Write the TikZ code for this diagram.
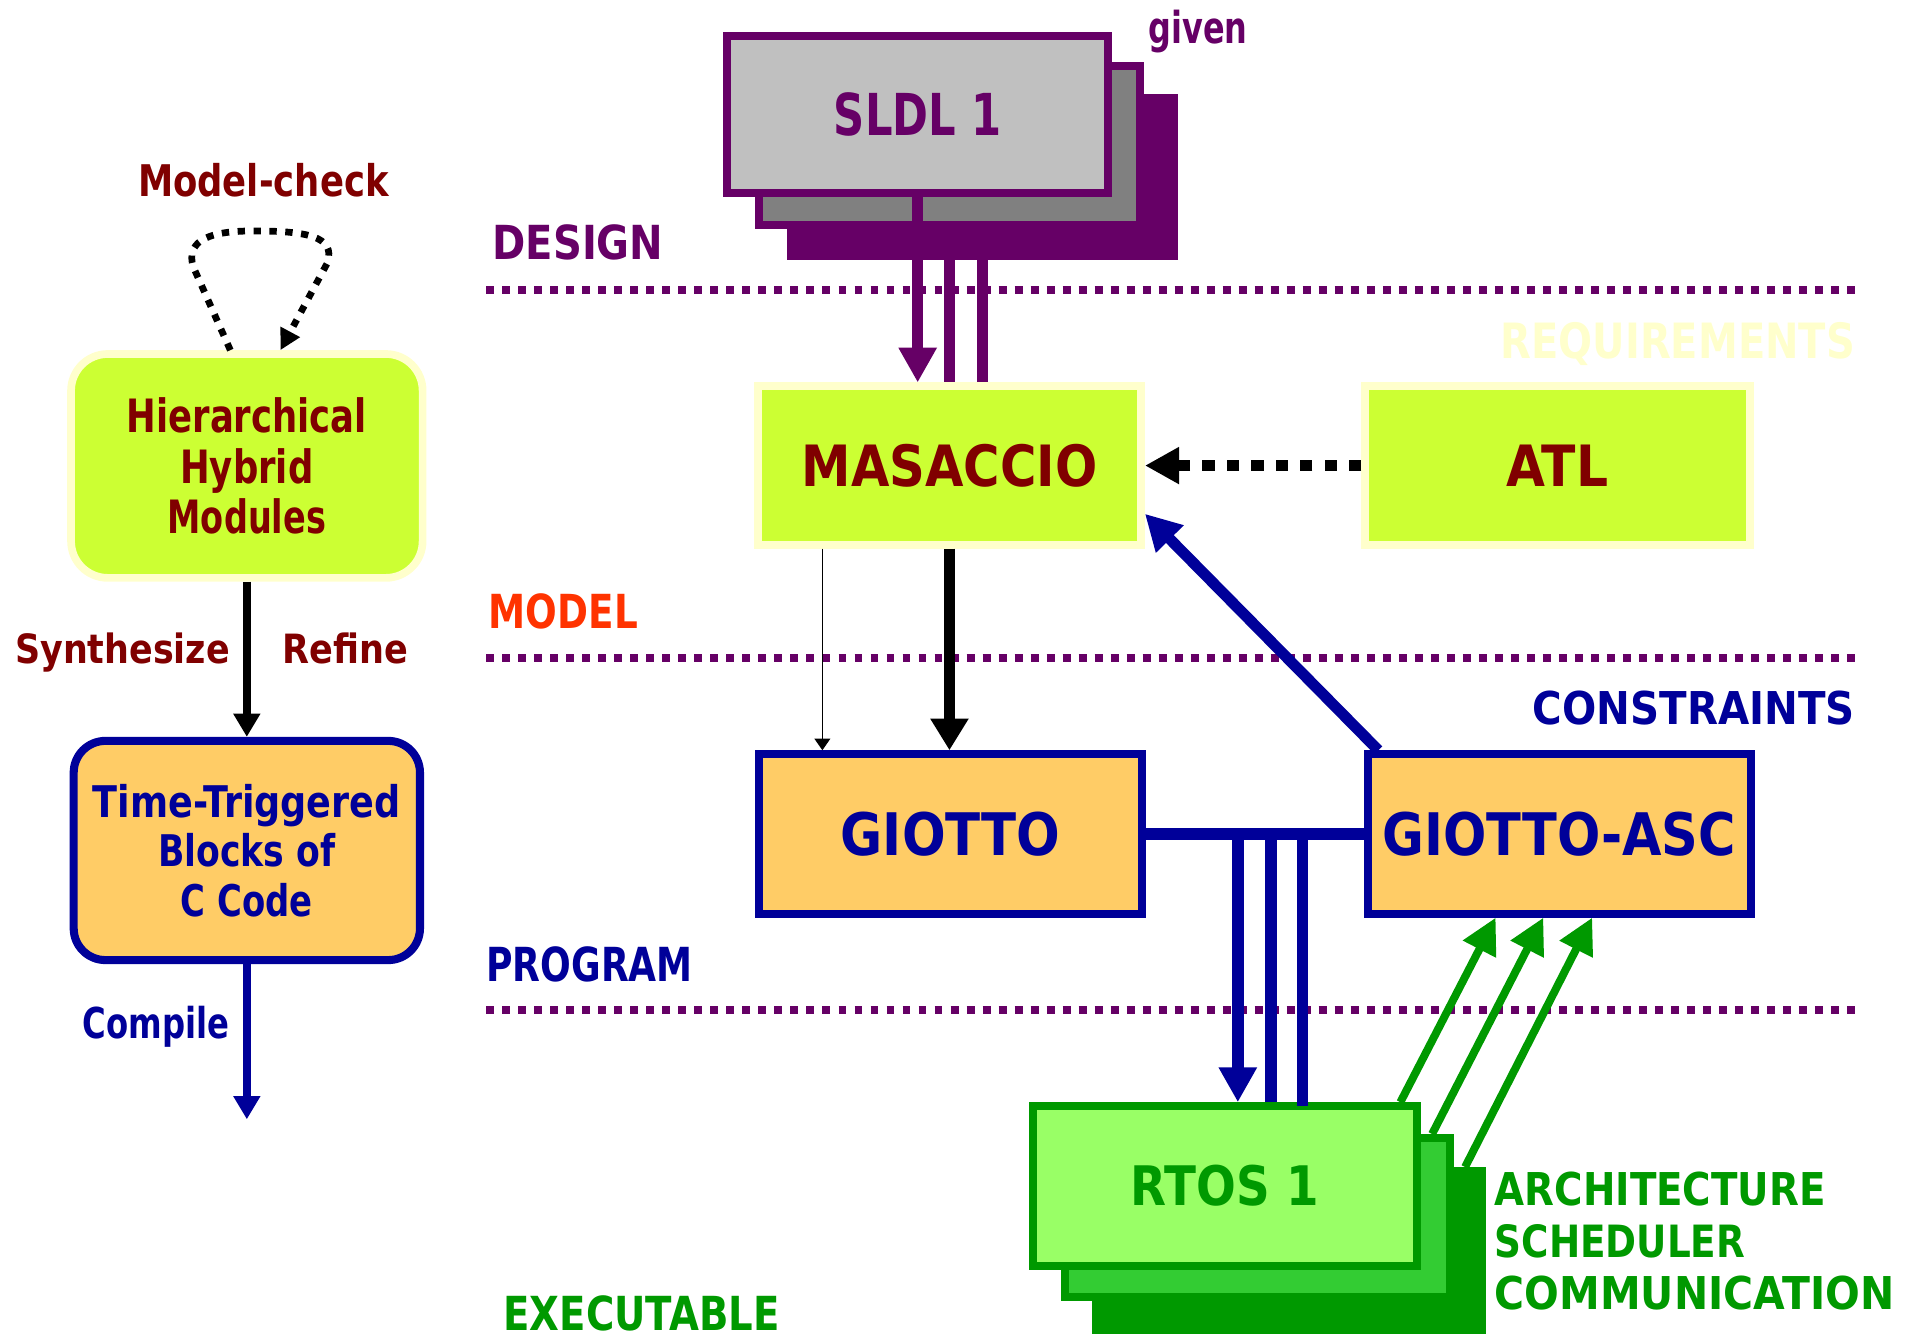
\documentclass[tikz,border=0pt]{standalone}
\usepackage{fontspec}
\setmainfont{DejaVu Sans}
\usepackage{graphicx}
\usetikzlibrary{arrows.meta,calc}

\definecolor{plum}{HTML}{660066}
\definecolor{maroon}{HTML}{800000}
\definecolor{navy}{HTML}{000099}
\definecolor{lime}{HTML}{CCFF33}
\definecolor{cream}{HTML}{FFFFCC}
\definecolor{peach}{HTML}{FFCC66}
\definecolor{vermilion}{HTML}{FF3300}
\definecolor{leaf}{HTML}{009900}
\definecolor{mint}{HTML}{99FF66}
\definecolor{grass}{HTML}{33CC33}
\definecolor{silver}{HTML}{C0C0C0}
\definecolor{slate}{HTML}{808080}

% \fitw{width}{size}{text}: bold text set at <size> pt, stretched horizontally to <width> pt
\newcommand\fitw[3]{\resizebox{#1pt}{\height}{\fontsize{#2pt}{#2pt}\selectfont\bfseries #3}}

\begin{document}
\begin{tikzpicture}[x=1pt,y=-1pt,
  lvl/.style={plum, line width=6.5pt, dash pattern=on 6.5pt off 6.6pt},
  tag/.style={inner sep=0pt, outer sep=0pt, anchor=base west},
  panel/.style={rectangle, inner sep=0pt, line width=6.5pt},
  solidback/.style={rectangle, inner sep=0pt, outer sep=0pt},
  bigtip/.style={-{Triangle[width=29.5pt,length=28.5pt]}},
  heavy/.style={line width=9.5pt},
]
\useasboundingbox (0,0) rectangle (1568,1093);

% ---------- level separators ----------
\draw[lvl] (398,237.4) -- (1518,237.4);
\draw[lvl] (398,538.5) -- (1518,538.5);
\draw[lvl] (398,826.2) -- (1518,826.2);

% ---------- level names ----------
\node[tag, plum]      (design)  at (403,212)    {\fitw{140}{38.4}{DESIGN}};
\node[tag, cream]     (reqs)    at (1228,293.6) {\fitw{290}{39.8}{REQUIREMENTS}};
\node[tag, vermilion] (model)   at (400,514)    {\fitw{122}{38.4}{MODEL}};
\node[tag, navy]      (constr)  at (1254.5,593) {\fitw{263.5}{37}{CONSTRAINTS}};
\node[tag, navy]      (program) at (398,803)    {\fitw{169}{38.4}{PROGRAM}};
\node[tag, leaf]      (exec)    at (412,1088.5) {\fitw{226}{38.4}{EXECUTABLE}};

% ---------- SLDL stack ----------
\node[solidback, fill=plum, minimum width=320pt, minimum height=136pt] (sldlC) at (804,145) {};
\node[panel, fill=slate, draw=plum, minimum width=311.5pt, minimum height=129.5pt] (sldlB) at (777,119) {};
\node[panel, fill=silver, draw=plum, text=plum, minimum width=311.5pt, minimum height=128.5pt]
  (sldlA) at (751,93.5) {\fitw{137}{47.3}{SLDL 1}};
\node[tag, plum] (given) at (940,36) {\fitw{81}{36}{given}};

% ---------- model layer ----------
\node[panel, fill=lime, draw=cream, text=maroon, minimum width=313.5pt, minimum height=129.5pt]
  (masaccio) at (777,381) {\fitw{242}{46.6}{MASACCIO}};
\node[panel, fill=lime, draw=cream, text=maroon, minimum width=314.5pt, minimum height=129.5pt]
  (atl) at (1274.5,381) {\fitw{83}{46.6}{ATL}};

% ---------- program layer ----------
\node[panel, fill=peach, draw=navy, text=navy, minimum width=313.5pt, minimum height=130.5pt]
  (giotto) at (778,682.5) {\fitw{180}{48}{GIOTTO}};
\node[panel, fill=peach, draw=navy, text=navy, minimum width=313.5pt, minimum height=130.5pt]
  (asc) at (1276,682.5) {\fitw{289.6}{48}{GIOTTO-ASC}};

% ---------- RTOS stack ----------
\node[solidback, fill=leaf, minimum width=322pt, minimum height=137pt] (rtosC) at (1055,1023.5) {};
\node[panel, fill=grass, draw=leaf, minimum width=315.5pt, minimum height=130.5pt] (rtosB) at (1029,996.5) {};
\node[panel, fill=mint, draw=leaf, text=leaf, minimum width=314.5pt, minimum height=130.5pt]
  (rtosA) at (1002.5,970.5) {\fitw{154}{44.6}{RTOS 1}};
\node[inner sep=0pt, anchor=north west, align=left, text=leaf,
      font=\fontsize{37pt}{42.5pt}\selectfont] (aspects) at (1223,959)
  {\fitw{271}{37}{ARCHITECTURE}\\ \fitw{205}{36.4}{SCHEDULER}\\ \fitw{327}{37}{COMMUNICATION}};

% ---------- left column ----------
\node[panel, line width=6.3pt, rounded corners=30pt, fill=lime, draw=cream, text=maroon,
      minimum width=287.7pt, minimum height=183.2pt, align=center,
      font=\fontsize{37.6pt}{41.5pt}\selectfont] (hhm) at (202,381.3)
  {\fitw{196.5}{37.6}{Hierarchical}\\ \fitw{109}{37.6}{Hybrid}\\ \fitw{129.6}{37.6}{Modules}};
\node[panel, line width=6.6pt, rounded corners=26pt, fill=peach, draw=navy, text=navy,
      minimum width=283.4pt, minimum height=179.4pt, align=center,
      font=\fontsize{35.7pt}{40.6pt}\selectfont] (ttb) at (202,696)
  {\fitw{252}{35.7}{Time-Triggered}\\ \fitw{145}{35.7}{Blocks of}\\ \fitw{108}{35.7}{C Code}};

\node[tag, maroon] (mc)     at (113,161)    {\fitw{205}{35.7}{Model-check}};
\node[tag, maroon] (synth)  at (12.4,542.7) {\fitw{175.7}{33}{Synthesize}};
\node[tag, maroon] (refine) at (231.3,542.7){\fitw{102.7}{33}{Refine}};
\node[tag, navy]   (comp)   at (67.8,850)   {\fitw{120}{34.8}{Compile}};

\draw[line width=5.5pt, dash pattern=on 6pt off 7pt, -{Triangle[width=17pt,length=17pt]}]
  ([xshift=-13.5pt]hhm.north) -- (158,218)
  .. controls (153,200) and (165,189) .. (207,189)
  .. controls (250,189) and (275,193) .. (268,215)
  -- ([xshift=27.5pt]hhm.north);
\draw[line width=6.6pt, -{Triangle[width=21pt,length=19pt]}] (hhm.south) -- (ttb.north);
\coordinate (binary) at (202,916);
\draw[navy, line width=6.6pt, -{Triangle[width=21pt,length=19pt]}] (ttb.south) -- (binary);

% ---------- SLDL to MASACCIO ----------
\draw[plum, heavy, bigtip] (sldlA.south) -- (sldlA.south |- masaccio.north);
\draw[plum, heavy] (sldlC.south -| masaccio.north) -- (masaccio.north);
\draw[plum, heavy] (sldlC.south) -- (sldlC.south |- masaccio.north);

% ---------- ATL constrains MASACCIO ----------
\draw[heavy, dash pattern=on 10pt off 10pt, -{Triangle[width=28.6pt,length=28pt]}]
  (atl.west) -- (masaccio.east);

% ---------- MASACCIO to GIOTTO ----------
\draw[line width=1.4pt, -{Triangle[width=12.8pt,length=9.5pt]}]
  ([xshift=-104pt]masaccio.south) -- ([xshift=-104pt]masaccio.south |- giotto.north);
\draw[heavy, -{Triangle[width=29.7pt,length=26pt]}]
  (masaccio.south) -- (masaccio.south |- giotto.north);

% ---------- GIOTTO-ASC back to MASACCIO ----------
\draw[navy, line width=9pt, -{Triangle[width=30pt,length=29pt]}]
  ([xshift=12pt]asc.north west) -- ([yshift=-39.5pt]masaccio.east);

% ---------- GIOTTO / GIOTTO-ASC to RTOS ----------
\draw[navy, line width=9.3pt] (giotto.east) -- (asc.west);
\coordinate (t1) at ([xshift=75pt]giotto.east);
\coordinate (t2) at ([xshift=102pt]giotto.east);
\coordinate (t3) at ([xshift=128pt]giotto.east);
\draw[navy, heavy, bigtip] (t1) -- (t1 |- rtosA.north);
\draw[navy, heavy] (t2) -- (t2 |- rtosA.north);
\draw[navy, heavy] (t3) -- ([yshift=-3pt]t3 |- rtosA.north);

% ---------- RTOS back to GIOTTO-ASC ----------
\draw[leaf, line width=6.5pt, -{Triangle[width=29pt,length=29pt]}]
  ([xshift=143.5pt]rtosA.north) -- ([xshift=-52pt]asc.south);
\draw[leaf, line width=6.5pt, -{Triangle[width=29pt,length=29pt]}]
  ([xshift=143pt]rtosB.north) -- ([xshift=-13pt]asc.south);
\draw[leaf, line width=6.5pt, -{Triangle[width=29pt,length=29pt]}]
  ([xshift=144pt]rtosC.north) -- ([xshift=27pt]asc.south);
\end{tikzpicture}
\end{document}
